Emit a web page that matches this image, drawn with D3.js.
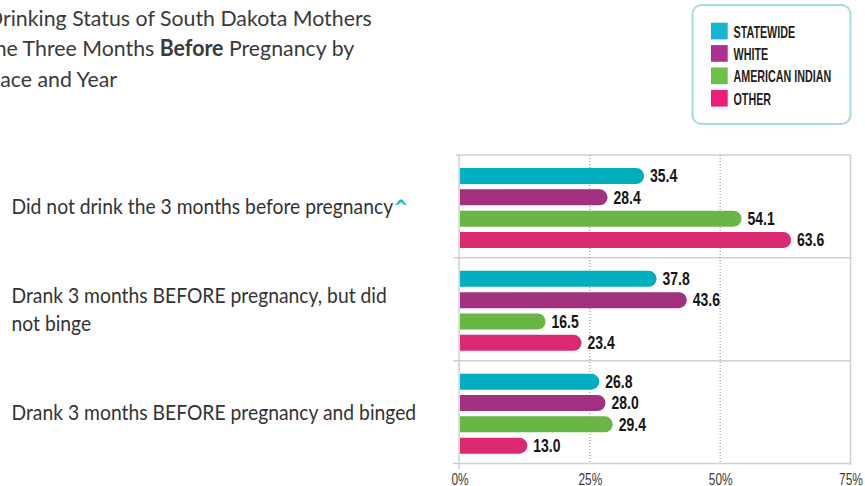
<!DOCTYPE html>
<html>
<head>
<meta charset="utf-8">
<script src="https://cdn.jsdelivr.net/npm/d3@7"></script>
<style>
  body { margin: 0; background: #fff; }
  svg { display: block; }
  text { font-family: Lato, "Noto Sans", sans-serif; }
  .cond { font-family: "Liberation Sans", Arial, sans-serif; }
</style>
</head>
<body>
<svg id="chart" width="865" height="486"></svg>
<script>
// data
var categories = ["Did not drink the 3 months before pregnancy",
                  "Drank 3 months BEFORE pregnancy, but did\nnot binge",
                  "Drank 3 months BEFORE pregnancy and binged"];
var seriesNames = ["STATEWIDE", "WHITE", "AMERICAN INDIAN", "OTHER"];
var statewide      = [35.4, 37.8, 26.8];
var white          = [28.4, 43.6, 28.0];
var americanIndian = [54.1, 16.5, 29.4];
var other          = [63.6, 23.4, 13.0];
var tickValues = [0, 25, 50, 75];

var seriesValues = [statewide, white, americanIndian, other];
var barColors = ["#00aebf", "#a3307e", "#69b545", "#dc2a72"];
var legendColors = ["#13b5d0", "#b0308f", "#6cbf47", "#ec1e79"];

var svg = d3.select("#chart");

// squeeze a text horizontally so its natural width becomes `target`
function fitFactor(str, size, weight, family, target) {
    var t = svg.append("text").style("font-size", size + "px").style("font-weight", weight)
        .style("font-family", family).text(str);
    var w = t.node().getComputedTextLength();
    t.remove();
    return target / w;
}

// scales
var x = d3.scaleLinear().domain([0, 75]).range([459.5, 850.5]);
var yGroup = d3.scaleBand().domain(d3.range(categories.length)).range([155, 463.5]).padding(0);
var yInner = d3.scaleBand().domain(d3.range(seriesNames.length)).range([13, 93]).paddingInner(0.25);

// title (runs off the left edge, like the original crop)
var kTitle = fitFactor("Drinking Status of South Dakota Mothers", 22, "normal", "Lato", 385);
var tg = svg.append("g").attr("transform", "translate(-13,0) scale(" + kTitle + ",1)");
var title = tg.append("text").style("font-size", "22px").style("fill", "#3a3a3a");
title.append("tspan").attr("x", 0).attr("y", 26).text("Drinking Status of South Dakota Mothers");
title.append("tspan").attr("x", 0).attr("y", 56.5).text("the Three Months ");
title.append("tspan").style("font-weight", "bold").text("Before");
title.append("tspan").text(" Pregnancy by");
title.append("tspan").attr("x", 0).attr("y", 87).text("Race and Year");

// legend
var legend = svg.append("g");
legend.append("rect")
    .attr("x", 692.5).attr("y", 5).attr("width", 158).attr("height", 119)
    .attr("rx", 9)
    .style("fill", "#fff").style("stroke", "#a6dbdb").style("stroke-width", 2);
var kLeg = fitFactor("AMERICAN INDIAN", 16.5, "bold", "Liberation Sans", 98);
var li = legend.selectAll("g.item").data(seriesNames).enter().append("g")
    .attr("class", "item")
    .attr("transform", function(d, i) { return "translate(711," + (22.7 + i * 22.4) + ")"; });
li.append("rect").attr("width", 16.7).attr("height", 16.7)
    .style("fill", function(d, i) { return legendColors[i]; });
li.append("text").attr("class", "cond")
    .attr("transform", "translate(22.5,14.8) scale(" + kLeg + ",1)")
    .style("font-size", "16.5px").style("font-weight", "bold").style("fill", "#231f20")
    .text(function(d) { return d; });

// grid / frame
var grid = svg.append("g");
var bounds = yGroup.domain().map(function(i) { return yGroup(i); }).concat([yGroup.range()[1]]);
grid.selectAll("line.sep").data(bounds).enter().append("line")
    .attr("x1", function(d, i) { return i == 0 ? 456 : 453; }).attr("x2", x(75))
    .attr("y1", function(d) { return d; }).attr("y2", function(d) { return d; })
    .style("stroke", "#d0d0d0").style("stroke-width", 1.5);
grid.selectAll("line.dot").data([25, 50]).enter().append("line")
    .attr("x1", function(d) { return x(d); }).attr("x2", function(d) { return x(d); })
    .attr("y1", 155).attr("y2", 463.5)
    .style("stroke", "#8a8a8a").style("stroke-width", 1).style("stroke-dasharray", "1,2");
grid.append("line").attr("x1", x(0) - 0.5).attr("x2", x(0) - 0.5).attr("y1", 155).attr("y2", 469)
    .style("stroke", "#d0d0d0").style("stroke-width", 1.5);
grid.append("line").attr("x1", x(75)).attr("x2", x(75)).attr("y1", 155).attr("y2", 465)
    .style("stroke", "#d0d0d0").style("stroke-width", 1.5);

// x axis labels
var xAxis = d3.axisBottom(x).tickValues(tickValues).tickSize(0).tickPadding(0)
    .tickFormat(function(d) { return d + "%"; });
var ax = svg.append("g").attr("transform", "translate(0,470)").call(xAxis);
ax.select(".domain").remove();
ax.selectAll("text")
    .attr("dy", null).attr("y", 0)
    .attr("transform", "translate(0,15) scale(0.7,1)")
    .style("font-family", "'Liberation Sans', Arial, sans-serif")
    .style("font-size", "17px").style("fill", "#3a3a3a");

// category labels
var kCat = fitFactor(categories[0], 21, "normal", "Lato", 382);
var catG = svg.append("g").attr("transform", "translate(11.5,0) scale(" + kCat + ",1)");
var cat = catG.selectAll("text.cat").data(categories).enter().append("text")
    .attr("class", "cat")
    .style("font-size", "21px").style("fill", "#333");
cat.each(function(d, i) {
    var lines = d.split("\n");
    var cy = yGroup(i) + yGroup.bandwidth() / 2;
    var t = d3.select(this);
    lines.forEach(function(s, j) {
        t.append("tspan").attr("x", 0)
            .attr("y", cy + 7.5 + (j - (lines.length - 1) / 2) * 28.3)
            .text(s);
    });
    if (i == 0) {
        t.append("tspan").attr("dx", 0.5).attr("dy", 0).style("fill", "#1bb5c9")
            .style("font-weight", "900").style("font-family", "'DejaVu Sans', sans-serif")
            .style("font-size", "19px").text("^");
    }
});

// bars
function barPath(x0, x1, y0, h) {
    var r = Math.min(h / 2, x1 - x0);
    return "M" + x0 + "," + y0 + "H" + (x1 - r) +
        "A" + r + "," + r + " 0 0 1 " + (x1 - r) + "," + (y0 + h) +
        "H" + x0 + "Z";
}

var groups = svg.selectAll("g.grp").data(categories).enter().append("g")
    .attr("class", "grp")
    .attr("transform", function(d, i) { return "translate(0," + yGroup(i) + ")"; });

groups.each(function(d, gi) {
    var g = d3.select(this);
    var rows = seriesValues.map(function(vals, si) { return { s: si, v: vals[gi] }; });
    g.selectAll("path").data(rows).enter().append("path")
        .attr("d", function(r) { return barPath(x(0) + 0.5, x(r.v), yInner(r.s), yInner.bandwidth()); })
        .style("fill", function(r) { return barColors[r.s]; });
    g.selectAll("text").data(rows).enter().append("text")
        .attr("class", "cond")
        .attr("transform", function(r) {
            return "translate(" + (x(r.v) + 6) + "," + (yInner(r.s) + yInner.bandwidth() / 2 + 6.3) + ") scale(0.8,1)";
        })
        .style("font-size", "17.5px").style("font-weight", "bold").style("fill", "#151515")
        .text(function(r) { return d3.format(".1f")(r.v); });
});
</script>
</body>
</html>
